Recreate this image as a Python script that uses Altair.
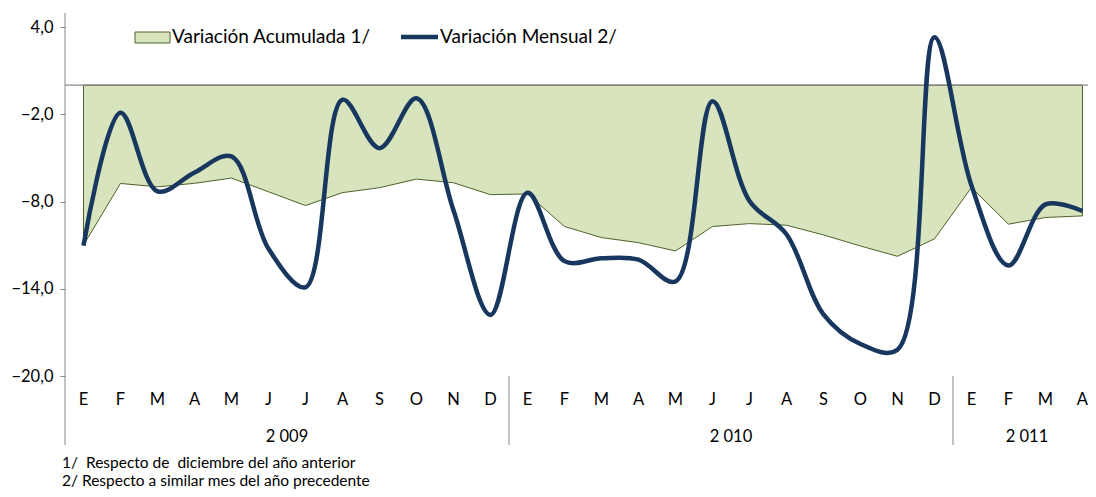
import altair as alt
import pandas as pd

meses = ["E", "F", "M", "A", "M", "J", "J", "A", "S", "O", "N", "D",
         "E", "F", "M", "A", "M", "J", "J", "A", "S", "O", "N", "D",
         "E", "F", "M", "A"]
acumulada = [-11.0, -6.76, -6.99, -6.75, -6.39, -7.33, -8.28, -7.39, -7.05, -6.46, -6.71, -7.53,
             -7.48, -9.72, -10.48, -10.83, -11.40, -9.72, -9.52, -9.63, -10.30, -11.06, -11.77, -10.57,
             -7.04, -9.56, -9.10, -8.99]
mensual = [-11.03, -1.9, -7.3, -6.0, -4.9, -11.25, -13.9, -1.0, -4.33, -0.9, -8.6, -15.8,
           -7.4, -12.1, -11.9, -12.0, -13.5, -1.1, -7.96, -10.25, -15.76, -17.8, -18.2, 3.3,
           -6.9, -12.4, -8.2, -8.65]
anios = ["2 009", "2 010", "2 011"]
anio_centro = [5.5, 17.5, 25.5]
separadores = [11.5, 23.5]
y_ticks = [4, -2, -8, -14, -20]
notas = ["1/\u00a0 Respecto de\u00a0 diciembre del año anterior",
         "2/ Respecto a similar mes del año precedente"]

FONT = "Lato"
W, H = 1023, 349
GRAY = "#898989"

df = pd.DataFrame({"idx": list(range(len(meses))), "mes": meses,
                   "acum": acumulada, "mens": mensual})

xs = alt.Scale(domain=[-0.5, 27.15], nice=False, zero=False)
ys = alt.Scale(domain=[-20, 4], nice=False, zero=False)

area = alt.Chart(df).mark_area(fill="#D7E4BD", stroke="#4F6228", strokeWidth=1,
                               interpolate="linear").encode(
    x=alt.X("idx:Q", scale=xs, axis=None),
    y=alt.Y("acum:Q", scale=ys, title=None,
            axis=alt.Axis(values=y_ticks, domain=False, grid=False, tickColor=GRAY,
                          tickSize=5, labelPadding=7, labelFont=FONT, labelFontSize=16.5,
                          labelColor="#000000",
                          labelExpr="replace(format(datum.value, '.1f'), '.', ',')")),
    y2=alt.datum(0),
)

zero = alt.Chart(pd.DataFrame({"z": [0]})).mark_rule(color=GRAY, strokeWidth=1.3).encode(
    y=alt.Y("z:Q", scale=ys, title=None), x=alt.value(0), x2=alt.value(W))

yline = alt.Chart(pd.DataFrame({"a": [0]})).mark_rule(color=GRAY, strokeWidth=1).encode(
    x=alt.value(0), y=alt.value(-14), y2=alt.value(418))

seps = alt.Chart(pd.DataFrame({"s": separadores})).mark_rule(color=GRAY, strokeWidth=1).encode(
    x=alt.X("s:Q", scale=xs, axis=None), y=alt.value(349), y2=alt.value(418))

line = alt.Chart(df).mark_line(color="#17375E", strokeWidth=4.5, interpolate="catmull-rom").encode(
    x=alt.X("idx:Q", scale=xs, axis=None),
    y=alt.Y("mens:Q", scale=ys, title=None))

mes_txt = alt.Chart(df).mark_text(font=FONT, fontSize=16.5, color="#000000").encode(
    x=alt.X("idx:Q", scale=xs, axis=None), y=alt.value(373), text="mes:N")

yr_df = pd.DataFrame({"c": anio_centro, "t": anios})
yr_txt = alt.Chart(yr_df).mark_text(font=FONT, fontSize=16.5, color="#000000").encode(
    x=alt.X("c:Q", scale=xs, axis=None), y=alt.value(410), text="t:N")

nota_df = pd.DataFrame({"t": notas, "yy": [436, 454]})
nota_txt = alt.Chart(nota_df).mark_text(font=FONT, fontSize=15.5, color="#000000", align="left").encode(
    x=alt.value(-3), y=alt.Y("yy:Q", scale=None), text="t:N")

one = pd.DataFrame({"a": [0]})
leg_rect = alt.Chart(one).mark_rect(fill="#D7E4BD", stroke="#4F6228", strokeWidth=1).encode(
    x=alt.value(70), x2=alt.value(105), y=alt.value(5), y2=alt.value(16))
leg_t1 = alt.Chart(pd.DataFrame({"t": ["Variación Acumulada 1/"]})).mark_text(
    font=FONT, fontSize=19, color="#000000", align="left").encode(
    x=alt.value(107), y=alt.value(10), text="t:N")
leg_line = alt.Chart(one).mark_rule(color="#17375E", strokeWidth=4.5).encode(
    x=alt.value(336), x2=alt.value(373), y=alt.value(10))
leg_t2 = alt.Chart(pd.DataFrame({"t": ["Variación Mensual 2/"]})).mark_text(
    font=FONT, fontSize=19, color="#000000", align="left").encode(
    x=alt.value(375), y=alt.value(10), text="t:N")

chart = alt.layer(area, zero, yline, seps, line, mes_txt, yr_txt, nota_txt,
                  leg_rect, leg_t1, leg_line, leg_t2).properties(
    width=W, height=H,
    autosize=alt.AutoSizeParams(type="none"),
    padding={"left": 57, "top": 19, "right": 0, "bottom": 113},
    background="#FFFFFF",
).configure_view(stroke=None)

chart.save("out.html", embed_options={"renderer": "svg", "actions": False})
